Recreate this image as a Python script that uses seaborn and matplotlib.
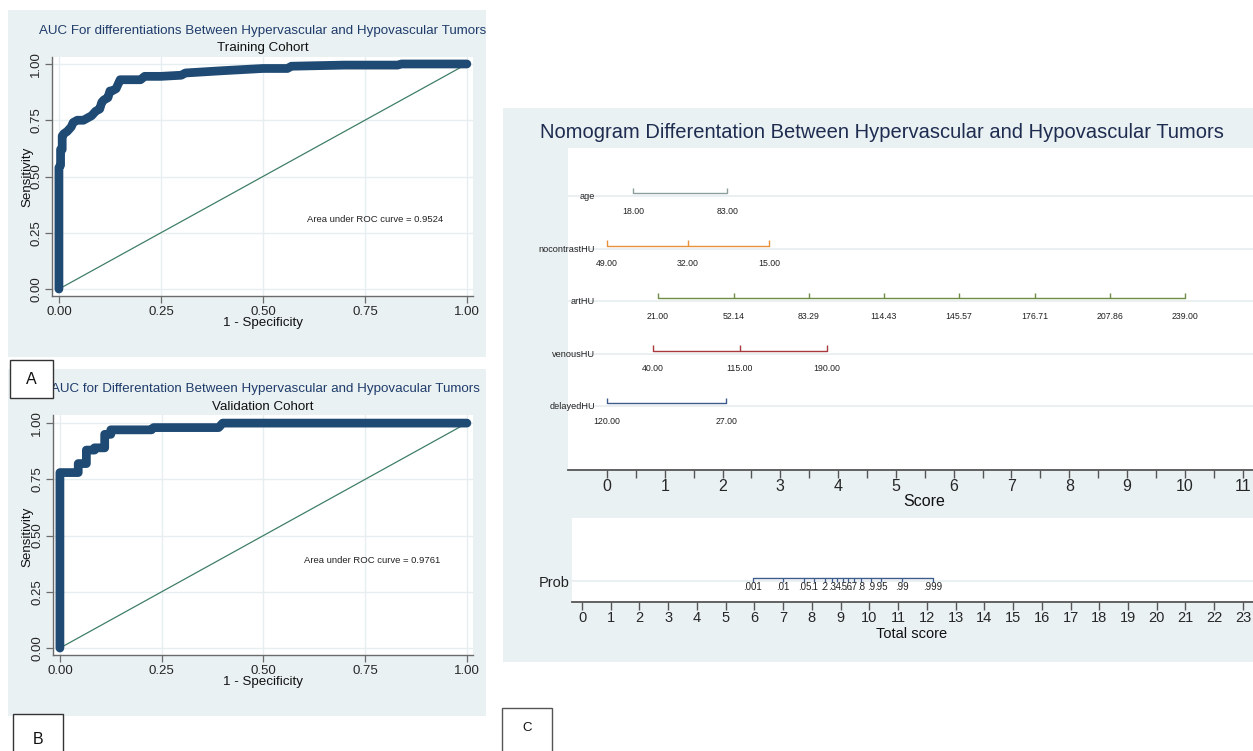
import numpy as np
import pandas as pd
import matplotlib
matplotlib.use("Agg")
import matplotlib.pyplot as plt
import seaborn as sns
from matplotlib.patches import Rectangle

sns.set_theme(style="white")
plt.rcParams['font.family'] = ['Liberation Sans', 'DejaVu Sans']

# ---------------- data ----------------
train_fpr = [0.0, 0.0, 0.004, 0.004, 0.008, 0.008, 0.012, 0.02, 0.03, 0.035, 0.045, 0.06, 0.07, 0.08,
             0.09, 0.10, 0.105, 0.11, 0.12, 0.125, 0.13, 0.14, 0.145, 0.15, 0.15, 0.20, 0.21, 0.25,
             0.30, 0.31, 0.40, 0.50, 0.56, 0.57, 0.70, 0.83, 0.84, 1.0]
train_tpr = [0.0, 0.54, 0.55, 0.62, 0.62, 0.68, 0.69, 0.70, 0.72, 0.74, 0.75, 0.75, 0.76, 0.77,
             0.79, 0.80, 0.83, 0.84, 0.85, 0.88, 0.88, 0.89, 0.91, 0.93, 0.93, 0.93, 0.945, 0.945,
             0.95, 0.96, 0.97, 0.98, 0.98, 0.99, 0.995, 0.995, 1.0, 1.0]
valid_fpr = [0.0, 0.0, 0.045, 0.045, 0.065, 0.065, 0.085, 0.085, 0.11, 0.11, 0.125, 0.125, 0.225,
             0.23, 0.39, 0.40, 1.0]
valid_tpr = [0.0, 0.78, 0.78, 0.82, 0.82, 0.88, 0.88, 0.89, 0.89, 0.95, 0.95, 0.97, 0.97,
             0.98, 0.98, 1.0, 1.0]
roc_ticks = [0.0, 0.25, 0.5, 0.75, 1.0]
roc_ticklabels = ["0.00", "0.25", "0.50", "0.75", "1.00"]
train_auc = "Area under ROC curve = 0.9524"
valid_auc = "Area under ROC curve = 0.9761"

nomo_vars = ["age", "nocontrastHU", "artHU", "venousHU", "delayedHU"]
nomo_labels = [
    ["18.00", "83.00"],
    ["49.00", "32.00", "15.00"],
    ["21.00", "52.14", "83.29", "114.43", "145.57", "176.71", "207.86", "239.00"],
    ["40.00", "115.00", "190.00"],
    ["120.00", "27.00"],
]
nomo_points = [
    [0.45, 2.08],
    [0.0, 1.40, 2.80],
    [0.88, 2.19, 3.49, 4.79, 6.09, 7.40, 8.70, 10.0],
    [0.80, 2.30, 3.81],
    [0.0, 2.06],
]
nomo_colors = ["#8a9f9e", "#e8913a", "#6f8c45", "#a8383d", "#3d5c8c"]
score_ticks = list(range(0, 12))
prob_labels = [".001", ".01", ".05", ".1", ".2", ".3", ".4", ".5", ".6", ".7", ".8", ".9", ".95", ".99", ".999"]
prob_points = [5.95, 7.0, 7.74, 8.08, 8.44, 8.69, 8.89, 9.07, 9.25, 9.45, 9.70, 10.06, 10.40, 11.15, 12.2]
total_ticks = list(range(0, 24))

# ---------------- layout helpers ----------------
W, H = 1253, 751
fig = plt.figure(figsize=(W / 100, H / 100), dpi=100)
fig.patch.set_facecolor("white")
BG = "#eaf1f3"
GRID = "#e6eef0"
NAVY = "#1f4a73"
DIAG = "#3f7f66"
TITLE_BLUE = "#1f3c6b"


def rect(x0, y0, x1, y1):
    return [x0 / W, 1 - y1 / H, (x1 - x0) / W, (y1 - y0) / H]


def bg(x0, y0, x1, y1, color=BG, ec="none", lw=0, z=-10):
    fig.patches.append(Rectangle((x0 / W, 1 - y1 / H), (x1 - x0) / W, (y1 - y0) / H,
                                 transform=fig.transFigure, facecolor=color, edgecolor=ec,
                                 linewidth=lw, zorder=z))


def ftext(x, y, s, **kw):
    kw.setdefault("ha", "center")
    kw.setdefault("va", "center")
    fig.text(x / W, 1 - y / H, s, **kw)


# ---------------- ROC panels ----------------
def roc_panel(box, xl, yl, fpr, tpr, auc_text, auc_xy):
    ax = fig.add_axes(rect(*box))
    ax.set_zorder(1)
    ax.set_facecolor("white")
    ax.set_xlim(*xl)
    ax.set_ylim(*yl)
    for v in roc_ticks:
        ax.axhline(v, color=GRID, lw=1.0, zorder=0)
        ax.axvline(v, color=GRID, lw=1.0, zorder=0)
    sns.lineplot(x=[0, 1], y=[0, 1], color=DIAG, lw=0.9, ax=ax)
    sns.lineplot(x=fpr, y=tpr, sort=False, estimator=None, color=NAVY, lw=6.3, ax=ax,
                 solid_capstyle="round", solid_joinstyle="round")
    ax.set_xticks(roc_ticks)
    ax.set_xticklabels(roc_ticklabels)
    ax.set_yticks(roc_ticks)
    ax.set_yticklabels(roc_ticklabels, rotation=90, va="center")
    for s in ["top", "right"]:
        ax.spines[s].set_visible(False)
    for s in ["left", "bottom"]:
        ax.spines[s].set_color("#6b6b6b")
        ax.spines[s].set_linewidth(1.0)
    ax.tick_params(length=5, width=0.9, color="#6b6b6b", labelsize=9.5, pad=2,
                   bottom=True, left=True)
    ax.set_xlabel("")
    ax.set_ylabel("")
    ax.text(auc_xy[0], auc_xy[1], auc_text, fontsize=6.8, ha="left", va="center", color="#222")
    return ax


bg(8, 10, 486, 357)
bg(8, 369, 486, 716)
roc_panel((52, 57, 473, 296), (-0.017, 1.015), (-0.031, 1.031), train_fpr, train_tpr,
          train_auc, (0.608, 0.31))
roc_panel((53, 415, 473, 655), (-0.017, 1.015), (-0.031, 1.036), valid_fpr, valid_tpr,
          valid_auc, (0.60, 0.39))

ftext(263, 31, "AUC For differentiations Between Hypervascular and Hypovascular Tumors",
      fontsize=9.6, color=TITLE_BLUE)
ftext(263, 48, "Training Cohort", fontsize=9.6, color="#111")
ftext(263, 323, "1 - Specificity", fontsize=9.6, color="#111")
ftext(27, 177, "Sensitivity", fontsize=9.6, color="#111", rotation=90, zorder=5)

ftext(265, 389, "AUC for Differentation Between Hypervascular and Hypovacular Tumors",
      fontsize=9.6, color=TITLE_BLUE)
ftext(263, 407, "Validation Cohort", fontsize=9.6, color="#111")
ftext(263, 682, "1 - Specificity", fontsize=9.6, color="#111")
ftext(27, 537, "Sensitivity", fontsize=9.6, color="#111", rotation=90, zorder=5)

# ---------------- Nomogram panel ----------------
bg(503, 108, 1253, 662)
ftext(882, 133, "Nomogram Differentation Between Hypervascular and Hypovascular Tumors",
      fontsize=14.5, color="#1e2c50")

ax1 = fig.add_axes(rect(568, 148, 1253, 470))
ax1.set_zorder(1)
ax1.set_facecolor("white")
ax1.set_xlim(-0.675, 11.18)
ax1.set_ylim(5.238, -0.895)
for i, (name, labs, pts, col) in enumerate(zip(nomo_vars, nomo_labels, nomo_points, nomo_colors)):
    ax1.axhline(i + 0.02, color=GRID, lw=1.2, zorder=0)
    sns.lineplot(x=[pts[0], pts[-1]], y=[i - 0.03, i - 0.03], color=col, lw=1.0, ax=ax1)
    ax1.vlines(pts, i - 0.14, i - 0.03, color=col, lw=1.0)
    for p, l in zip(pts, labs):
        ax1.text(p, i + 0.31, l, fontsize=6.3, ha="center", va="center", color="#222")
    ax1.text(-0.21, i + 0.03, name, fontsize=6.6, ha="right", va="center", color="#222")
ax1.set_xticks(score_ticks)
ax1.set_xticks(np.arange(0.5, 11.5, 1.0), minor=True)
ax1.set_yticks([])
for s in ["top", "right", "left"]:
    ax1.spines[s].set_visible(False)
ax1.spines["bottom"].set_color("#555")
ax1.spines["bottom"].set_linewidth(1.3)
ax1.tick_params(axis="x", which="both", length=6, width=1.0, color="#555",
                labelsize=11.5, pad=0.5, bottom=True)
ax1.set_xlabel("")
ftext(924, 502, "Score", fontsize=11.5, color="#111")

ax2 = fig.add_axes(rect(572, 518, 1253, 602))
ax2.set_zorder(1)
ax2.set_facecolor("white")
ax2.set_xlim(-0.348, 23.35)
ax2.set_ylim(23, -61)
ax2.axhline(2, color=GRID, lw=1.2, zorder=0)
sns.lineplot(x=[prob_points[0], prob_points[-1]], y=[-1, -1], color="#3d5c8c", lw=1.0, ax=ax2)
ax2.vlines(prob_points, -1, 3, color="#3d5c8c", lw=0.9)
for p, l in zip(prob_points, prob_labels):
    ax2.text(p, 8.5, l, fontsize=7.0, ha="center", va="center", color="#222")
ax2.text(-0.42, 4, "Prob", fontsize=10.5, ha="right", va="center", color="#222")
ax2.set_xticks(total_ticks)
ax2.set_yticks([])
for s in ["top", "right", "left"]:
    ax2.spines[s].set_visible(False)
ax2.spines["bottom"].set_color("#555")
ax2.spines["bottom"].set_linewidth(1.3)
ax2.tick_params(axis="x", length=6, width=1.0, color="#555", labelsize=10.5, pad=0.5, bottom=True)
ax2.set_xlabel("")
ftext(912, 634, "Total score", fontsize=10.5, color="#111")

# ---------------- panel letter boxes ----------------
bg(10, 360, 53, 398, color="white", ec="#333", lw=1.0, z=4)
ftext(31, 380, "A", fontsize=11.5, color="#111", zorder=6)
bg(13, 714, 63, 760, color="white", ec="#333", lw=1.0, z=4)
ftext(38, 739, "B", fontsize=11.5, color="#111", zorder=6)
bg(502, 708, 552, 760, color="white", ec="#555", lw=1.0, z=4)
ftext(527, 728, "C", fontsize=9.5, color="#111", zorder=6)

fig.savefig("out.png", dpi=100, facecolor="white")
